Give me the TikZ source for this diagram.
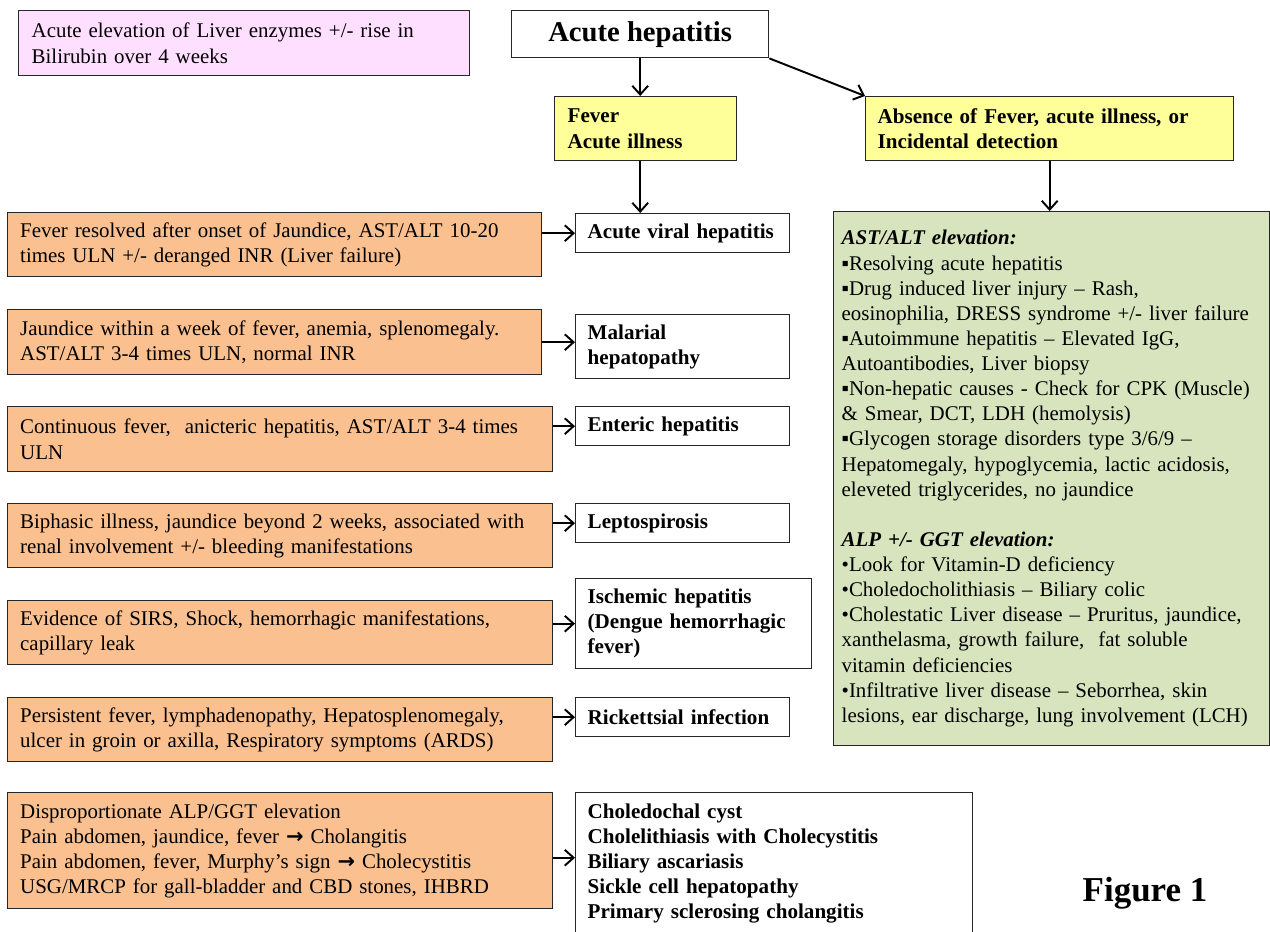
\documentclass[tikz,border=0pt]{standalone}
\usepackage{fontspec}
\setmainfont{Liberation Serif}
\newfontfamily\arrowfont{DejaVu Sans}
\usetikzlibrary{arrows.meta}
\usepackage{xcolor}

\definecolor{pinkfill}{HTML}{FFDFFF}
\definecolor{yellowfill}{HTML}{FFFF99}
\definecolor{orangefill}{HTML}{FAC090}
\definecolor{greenfill}{HTML}{D7E4BD}

\newcommand{\thento}{{\arrowfont\bfseries →}}

\tikzset{
    box/.style={draw=black!85, line width=0.8pt, anchor=north west, inner ysep=0pt,
        inner xsep=0.25cm, align=left, font=\fontsize{11.9}{14.3}\selectfont},
    cause/.style={box, fill=orangefill},
    dx/.style={box, inner xsep=0.24cm, font=\fontsize{12}{14.3}\selectfont\bfseries},
    arr/.style={-{Straight Barb[length=5pt,width=9pt]}, line width=1.1pt},
}

\begin{document}
\begin{tikzpicture}[x=0.02cm, y=-0.02cm]
    % Page frame
    \useasboundingbox (0,0) rectangle (1270,932);
    \clip (0,0) rectangle (1270,932);

    % Definition and top of the tree
    \node[box, fill=pinkfill, inner xsep=0.26cm, text width=8.5cm, minimum height=1.3cm] (def) at (18,10)
        {Acute elevation of Liver enzymes +/- rise in\\Bilirubin over 4 weeks};
    \node[box, align=center, minimum width=5.14cm, minimum height=0.94cm,
        font=\fontsize{16.3}{19}\selectfont\bfseries] (ah) at (511,10) {Acute hepatitis};
    \node[dx, fill=yellowfill, inner xsep=0.26cm, text width=3.12cm, minimum height=1.28cm] (fev) at (554,96)
        {Fever\\Acute illness};
    \node[dx, fill=yellowfill, inner xsep=0.24cm, text width=6.88cm, minimum height=1.28cm] (abs) at (865,96)
        {Absence of Fever, acute illness, or\\Incidental detection};

    % Clinical clues
    \node[cause, text width=10.18cm, minimum height=1.28cm] (o1) at (7,212)
        {Fever resolved after onset of Jaundice, AST/ALT 10-20\\times ULN +/- deranged INR (Liver failure)};
    \node[cause, text width=10.18cm, minimum height=1.30cm] (o2) at (7,309)
        {Jaundice within a week of fever, anemia, splenomegaly.\\AST/ALT 3-4 times ULN, normal INR};
    \node[cause, text width=10.4cm, minimum height=1.30cm] (o3) at (7,406)
        {Continuous fever,\ \ anicteric hepatitis, AST/ALT 3-4 times\\ULN};
    \node[cause, text width=10.4cm, minimum height=1.28cm] (o4) at (7,503)
        {Biphasic illness, jaundice beyond 2 weeks, associated with\\renal involvement +/- bleeding manifestations};
    \node[cause, text width=10.4cm, minimum height=1.28cm] (o5) at (7,600)
        {Evidence of SIRS, Shock, hemorrhagic manifestations,\\capillary leak};
    \node[cause, text width=10.4cm, minimum height=1.28cm] (o6) at (7,697)
        {Persistent fever, lymphadenopathy, Hepatosplenomegaly,\\ulcer in groin or axilla, Respiratory symptoms (ARDS)};
    \node[cause, text width=10.4cm, minimum height=2.32cm] (o7) at (7,792)
        {Disproportionate ALP/GGT elevation\\Pain abdomen, jaundice, fever \thento\ Cholangitis\\
         Pain abdomen, fever, Murphy’s sign \thento\ Cholecystitis\\USG/MRCP for gall-bladder and CBD stones, IHBRD};

    % Diagnoses
    \node[dx, text width=3.8cm, minimum height=0.78cm] (avh) at (575,213) {Acute viral hepatitis};
    \node[dx, text width=3.8cm, minimum height=1.28cm] (mal) at (575,314) {Malarial\\hepatopathy};
    \node[dx, text width=3.8cm, minimum height=0.78cm] (ent) at (575,406) {Enteric hepatitis};
    \node[dx, text width=3.8cm, minimum height=0.78cm] (lep) at (575,503) {Leptospirosis};
    \node[dx, text width=4.24cm, minimum height=1.80cm] (isc) at (575,578)
        {Ischemic hepatitis\\(Dengue hemorrhagic\\fever)};
    \node[dx, text width=3.8cm, minimum height=0.78cm] (ric) at (575,697) {Rickettsial infection};
    \node[dx, text width=7.46cm, minimum height=2.84cm] (bil) at (575,792)
        {Choledochal cyst\\Cholelithiasis with Cholecystitis\\Biliary ascariasis\\
         Sickle cell hepatopathy\\Primary sclerosing cholangitis};

    % Incidental detection
    \node[box, fill=greenfill, inner xsep=0.16cm, text width=8.4cm, minimum height=10.68cm] (grn) at (833,211)
        {\textbf{\textit{AST/ALT elevation:}}\\
         ▪Resolving acute hepatitis\\
         ▪Drug induced liver injury – Rash,\\
         eosinophilia, DRESS syndrome +/- liver failure\\
         ▪Autoimmune hepatitis – Elevated IgG,\\
         Autoantibodies, Liver biopsy\\
         ▪Non-hepatic causes - Check for CPK (Muscle)\\
         \& Smear, DCT, LDH (hemolysis)\\
         ▪Glycogen storage disorders type 3/6/9 –\\
         Hepatomegaly, hypoglycemia, lactic acidosis,\\
         eleveted triglycerides, no jaundice\\[14.3pt]
         \textbf{\textit{ALP +/- GGT elevation:}}\\
         •Look for Vitamin-D deficiency\\
         •Choledocholithiasis – Biliary colic\\
         •Cholestatic Liver disease – Pruritus, jaundice,\\
         xanthelasma, growth failure,\ \ fat soluble\\
         vitamin deficiencies\\
         •Infiltrative liver disease – Seborrhea, skin\\
         lesions, ear discharge, lung involvement (LCH)};

    \node[font=\fontsize{19.9}{23}\selectfont\bfseries] (fig) at (1145,893) {Figure 1};

    % Arrows
    \draw[arr] (ah.south) -- (ah.south |- fev.north);
    \draw[arr] (ah.south east) -- (abs.north west);
    \draw[arr] (ah.south |- fev.south) -- (ah.south |- avh.north);
    \draw[arr] (abs.south) -- (abs.south |- grn.north);
    \foreach \s/\t in {o1/avh, o3/ent, o4/lep, o5/isc, o6/ric}
        \draw[arr] (\s.east |- \t.west) -- (\t.west);
    \draw[arr] (o2.east) -- (o2.east -| mal.west);
    \coordinate (a7) at ([yshift=-4pt]o7.east);
    \draw[arr] (a7) -- (a7 -| bil.west);
\end{tikzpicture}
\end{document}
